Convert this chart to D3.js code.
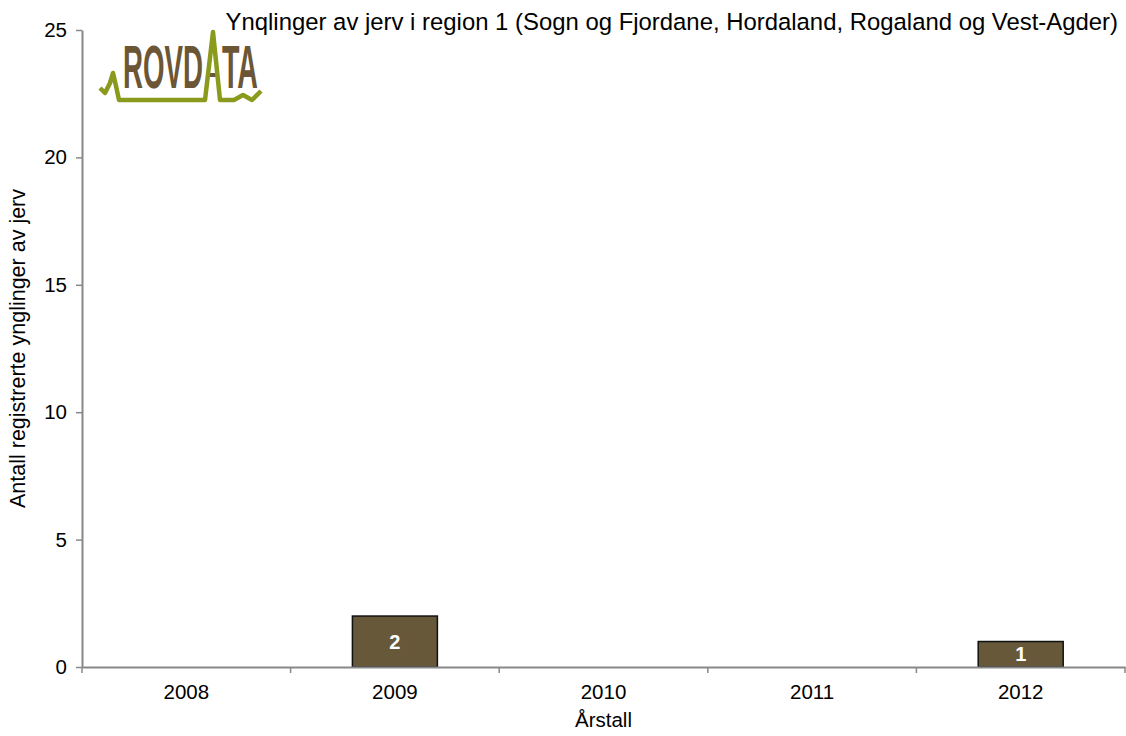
<!DOCTYPE html>
<html>
<head>
<meta charset="utf-8">
<script src="https://cdn.jsdelivr.net/npm/d3@7/dist/d3.min.js"></script>
<style>
  body { margin: 0; background: #fff; }
  text { font-family: "Liberation Sans", Arial, sans-serif; }
</style>
</head>
<body>
<div id="chart"></div>
<script>
var years = ["2008", "2009", "2010", "2011", "2012"];
var counts = [0, 2, 0, 0, 1];
var yTicks = [0, 5, 10, 15, 20, 25];
var title = "Ynqlinger av jerv i region 1 (Sogn og Fjordane, Hordaland, Rogaland og Vest-Agder)";

var w = 1126;
var h = 736;
var mLeft = 82, mRight = 1125, mTop = 30, mBottom = 667;

var svg = d3.select("#chart").append("svg").attr("width", w).attr("height", h);

var xScale = d3.scaleBand().domain(years).range([mLeft, mRight]).paddingInner(0).paddingOuter(0);
var yScale = d3.scaleLinear().domain([0, 25]).range([mBottom, mTop]);

// bars (only years with registrations get a bar)
var barW = 85;
var barData = years.map(function (y, i) {
  return { year: y, v: counts[i] };
}).filter(function (d) {
  return d.v > 0;
});

var bars = svg.selectAll("g.bar")
  .data(barData)
  .enter()
  .append("g")
  .attr("class", "bar");

bars.append("rect")
  .attr("x", function (d) { return xScale(d.year) + xScale.bandwidth() / 2 - barW / 2; })
  .attr("y", function (d) { return yScale(d.v); })
  .attr("width", barW)
  .attr("height", function (d) { return yScale(0) - yScale(d.v); })
  .attr("fill", "#665839")
  .attr("stroke", "#111")
  .attr("stroke-width", 1.5);

bars.append("text")
  .attr("x", function (d) { return xScale(d.year) + xScale.bandwidth() / 2; })
  .attr("y", function (d) { return (yScale(d.v) + yScale(0)) / 2 + 7; })
  .attr("text-anchor", "middle")
  .attr("fill", "#fff")
  .attr("font-weight", "bold")
  .attr("font-size", "20px")
  .text(function (d) { return d.v; });

// x axis
var xAxis = d3.axisBottom(xScale).tickSize(0).tickPadding(17);
var gx = svg.append("g").attr("transform", "translate(0," + mBottom + ")").call(xAxis);
gx.select(".domain").attr("stroke", "#888").attr("stroke-width", 2);
gx.selectAll("text").attr("font-size", "20.5px").attr("fill", "#000").attr("font-family", "Liberation Sans, Arial, sans-serif");
// category boundary ticks
var bounds = years.map(function (y) { return xScale(y); }).concat([mRight]);
gx.selectAll("line.sep").data(bounds).enter().append("line")
  .attr("class", "sep")
  .attr("x1", function (d) { return d; }).attr("x2", function (d) { return d; })
  .attr("y1", 0).attr("y2", 6)
  .attr("stroke", "#888").attr("stroke-width", 1.5);

// y axis
var yAxis = d3.axisLeft(yScale).tickValues(yTicks).tickSize(6).tickPadding(9).tickSizeOuter(0);
var gy = svg.append("g").attr("transform", "translate(" + mLeft + ",0)").call(yAxis);
gy.select(".domain").attr("stroke", "#888").attr("stroke-width", 2);
gy.selectAll(".tick line").attr("stroke", "#888").attr("stroke-width", 1.5);
gy.selectAll("text").attr("font-size", "20.5px").attr("fill", "#000").attr("font-family", "Liberation Sans, Arial, sans-serif");

// axis titles
svg.append("text")
  .attr("x", (mLeft + mRight) / 2)
  .attr("y", 727)
  .attr("text-anchor", "middle")
  .attr("font-size", "20.5px")
  .text("Årstall");

svg.append("text")
  .attr("transform", "translate(25," + (mTop + mBottom) / 2 + ") rotate(-90)")
  .attr("text-anchor", "middle")
  .attr("font-size", "21.5px")
  .text("Antall registrerte ynglinger av jerv");

// chart title
svg.append("text")
  .attr("x", 1118)
  .attr("y", 30)
  .attr("text-anchor", "end")
  .attr("font-size", "23.9px")
  .text(title);

// logo
var logo = svg.append("g");
logo.append("text")
  .attr("x", 123).attr("y", 88)
  .attr("textLength", 80).attr("lengthAdjust", "spacingAndGlyphs")
  .attr("font-family", "DejaVu Sans Condensed, sans-serif")
  .attr("font-weight", "bold")
  .attr("font-size", "62px")
  .attr("fill", "#6b5636")
  .text("ROVD");
logo.append("text")
  .attr("x", 222).attr("y", 88)
  .attr("textLength", 36).attr("lengthAdjust", "spacingAndGlyphs")
  .attr("font-family", "DejaVu Sans Condensed, sans-serif")
  .attr("font-weight", "bold")
  .attr("font-size", "62px")
  .attr("fill", "#6b5636")
  .text("TA");
logo.append("line")
  .attr("x1", 208).attr("x2", 218).attr("y1", 75).attr("y2", 75)
  .attr("stroke", "#6b5636").attr("stroke-width", 4);
var logoPts = [[100, 88], [105, 93], [110, 83], [113, 73], [116, 86], [119, 100], [205, 100], [213, 32], [220, 100], [234, 100], [243, 95], [252, 100], [261, 91]];
logo.append("path")
  .attr("d", d3.line()(logoPts))
  .attr("fill", "none")
  .attr("stroke", "#8a9a1c")
  .attr("stroke-width", 4.5)
  .attr("stroke-linejoin", "round");
</script>
</body>
</html>
